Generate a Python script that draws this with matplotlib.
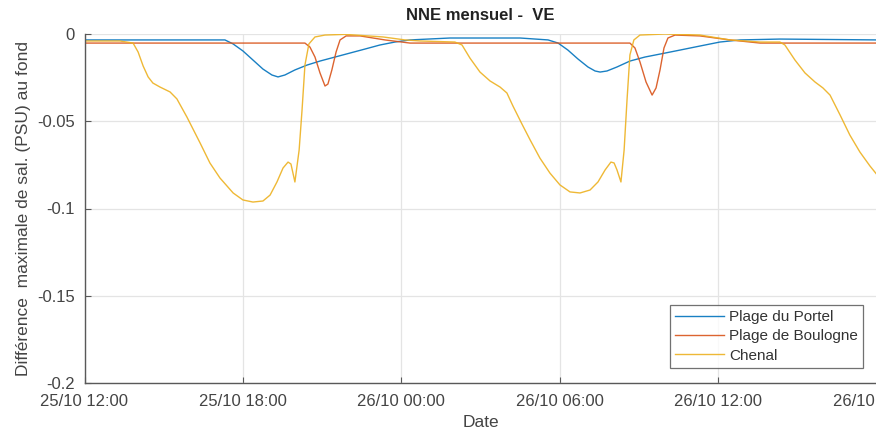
import matplotlib
matplotlib.use("Agg")
import matplotlib.pyplot as plt
import matplotlib.dates as mdates
import numpy as np
import pandas as pd

plt.rcParams['font.family'] = ['Liberation Sans', 'DejaVu Sans']
plt.rcParams['axes.unicode_minus'] = False

# Time axis: hours elapsed since 25/10 12:00
start = pd.Timestamp("2019-10-25 12:00")

portel_h = [0.02, 5.32, 5.63, 6.00, 6.38, 6.76, 7.10, 7.33, 7.59, 7.97, 8.43, 8.92,
            9.49, 10.06, 10.63, 11.19, 11.76, 12.33, 13.84, 16.50, 17.56, 17.94,
            18.31, 18.69, 19.07, 19.34, 19.53, 19.79, 20.17, 20.66, 21.23, 21.80,
            22.56, 23.31, 24.07, 24.83, 26.34, 30.06]
portel_v = [-0.0034, -0.0034, -0.0057, -0.0097, -0.0149, -0.0201, -0.0235, -0.0246,
            -0.0235, -0.0206, -0.0178, -0.0155, -0.0132, -0.0109, -0.0086, -0.0063,
            -0.0046, -0.0034, -0.0023, -0.0023, -0.0034, -0.0052, -0.0092, -0.0143,
            -0.0189, -0.0212, -0.0218, -0.0212, -0.0189, -0.0155, -0.0132, -0.0115,
            -0.0092, -0.0069, -0.0046, -0.0034, -0.0029, -0.0034]

boulogne_h = [0.02, 8.35, 8.54, 8.73, 8.92, 9.11, 9.22, 9.37, 9.53, 9.68, 9.91, 10.44,
              11.38, 12.33, 20.66, 20.85, 21.04, 21.27, 21.50, 21.65, 21.80, 21.95,
              22.10, 22.37, 23.31, 24.45, 25.59, 30.06]
boulogne_v = [-0.0052, -0.0052, -0.0075, -0.0132, -0.0223, -0.0298, -0.0287, -0.0206,
              -0.0103, -0.0034, -0.0011, -0.0011, -0.0034, -0.0052, -0.0052, -0.0080,
              -0.0160, -0.0275, -0.0350, -0.0309, -0.0206, -0.0080, -0.0023, -0.0006,
              -0.0011, -0.0034, -0.0052, -0.0052]

chenal_h = [0.02, 1.34, 1.84, 2.03, 2.22, 2.41, 2.59, 2.86, 3.24, 3.50, 3.88, 4.38,
            4.75, 5.13, 5.63, 6.00, 6.38, 6.76, 7.03, 7.29, 7.52, 7.71, 7.82, 7.97,
            8.13, 8.24, 8.35, 8.50, 8.73, 9.11, 9.87, 11.31, 12.14, 12.71,
            14.03, 14.30, 14.60, 14.98, 15.36, 15.74, 16.00, 16.23, 16.57, 16.88,
            17.25, 17.63, 18.01, 18.39, 18.77, 19.15, 19.45, 19.72, 19.94, 20.06,
            20.17, 20.32, 20.44, 20.55, 20.66, 20.81, 21.04, 21.99, 23.31, 24.45,
            25.59, 26.34, 26.53, 26.91, 27.29, 27.67, 27.97, 28.24, 28.62, 28.99,
            29.37, 29.75, 30.06]
chenal_v = [-0.0040, -0.0040, -0.0052, -0.0103, -0.0183, -0.0246, -0.0281, -0.0304,
            -0.0332, -0.0372, -0.0476, -0.0625, -0.0739, -0.0825, -0.0911, -0.0951,
            -0.0963, -0.0957, -0.0923, -0.0848, -0.0768, -0.0734, -0.0745, -0.0848,
            -0.0665, -0.0436, -0.0178, -0.0057, -0.0017, -0.0006, -0.0002, -0.0017,
            -0.0034, -0.0040,
            -0.0046, -0.0063, -0.0138, -0.0218, -0.0269, -0.0304, -0.0338, -0.0413,
            -0.0516, -0.0607, -0.0711, -0.0797, -0.0865, -0.0905, -0.0911, -0.0894,
            -0.0848, -0.0779, -0.0734, -0.0739, -0.0779, -0.0848, -0.0665, -0.0378,
            -0.0120, -0.0034, -0.0006, 0.0000, -0.0006, -0.0034, -0.0046, -0.0046,
            -0.0063, -0.0149, -0.0223, -0.0275, -0.0309, -0.0350, -0.0464, -0.0579,
            -0.0676, -0.0756, -0.0814]

series_names = ["Plage du Portel", "Plage de Boulogne", "Chenal"]
series_colors = ["#0072BD", "#D95319", "#EDB120"]

y_ticks = [-0.2, -0.15, -0.1, -0.05, 0]
y_tick_labels = ["-0.2", "-0.15", "-0.1", "-0.05", "0"]


def to_time(hours):
    return start + pd.to_timedelta(np.asarray(hours), unit="h")


fig = plt.figure(figsize=(8.76, 4.42), dpi=100)
ax = fig.add_axes([84.5 / 876, 1 - 383 / 442, (876.5 - 84.5) / 876, (383 - 34) / 442])

for h, v, name, col in zip([portel_h, boulogne_h, chenal_h],
                           [portel_v, boulogne_v, chenal_v],
                           series_names, series_colors):
    ax.plot(to_time(h), v, color=col, lw=1.0, label=name, alpha=0.9)

ax.set_xlim(start, start + pd.Timedelta(hours=30))
ax.set_ylim(-0.2, 0)
ax.set_yticks(y_ticks)
ax.set_yticklabels(y_tick_labels)
ax.xaxis.set_major_locator(mdates.HourLocator(byhour=[0, 6, 12, 18]))
ax.xaxis.set_major_formatter(mdates.DateFormatter("%d/%m %H:%M"))

ax.grid(True, color="#e4e4e4", lw=0.9)
ax.set_axisbelow(True)
for side in ["top", "right"]:
    ax.spines[side].set_visible(False)
for side in ["left", "bottom"]:
    ax.spines[side].set_color("#595959")
    ax.spines[side].set_linewidth(1.0)

ax.tick_params(direction="in", length=4, width=0.8, color="#595959",
               labelsize=12, labelcolor="#444444")
ax.tick_params(axis="x", pad=8)
ax.tick_params(axis="y", pad=7)

ax.set_title("NNE mensuel -  VE", fontsize=12, fontweight="bold", pad=10, color="#222222")
ax.set_xlabel("Date", fontsize=12.5, color="#444444", labelpad=4)
ax.set_ylabel("Différence  maximale de sal. (PSU) au fond", fontsize=12.5,
              color="#444444", labelpad=4)

leg = ax.legend(loc="lower right", fontsize=11, frameon=True,
                fancybox=False, handlelength=3.2, handletextpad=0.3,
                labelspacing=0.35, borderpad=0.35, borderaxespad=0)
leg.get_frame().set_edgecolor("#4d4d4d")
leg.get_frame().set_linewidth(0.9)
for t in leg.get_texts():
    t.set_color("#333333")
leg.set_bbox_to_anchor((863 / 876, 1 - 368 / 442), transform=fig.transFigure)

fig.savefig("out.png", dpi=100)
